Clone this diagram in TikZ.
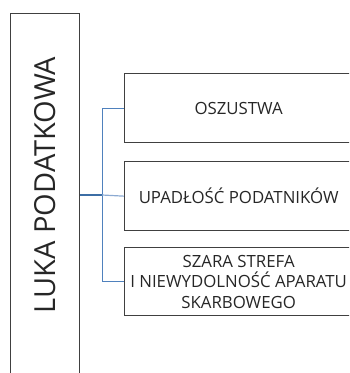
\documentclass[tikz,border=0pt]{standalone}
\usepackage{fontspec}
\setmainfont{Open Sans}
\begin{document}
\begin{tikzpicture}[x=1pt,y=1pt]
\tikzset{
  frame/.style={draw=black!75, line width=1.3pt, rectangle, inner sep=0pt},
  item/.style={frame, minimum width=228pt, minimum height=69pt, anchor=north west,
    align=center, font=\fontsize{16.8}{20.5}\selectfont, text=black!85},
  link/.style={draw={rgb,255:red,79;green,129;blue,189}, line width=0.9pt},
  branchlight/.style={draw={rgb,255:red,140;green,170;blue,210}, line width=1.2pt},
  stem/.style={draw={rgb,255:red,60;green,110;blue,165}, line width=1.8pt}}
\useasboundingbox (0,0) rectangle (349,-373);
\clip (0,0) rectangle (349,-373);

% main category column
\node[frame, minimum width=69pt, minimum height=380pt, anchor=north west] (gap) at (10,-13) {};
\node[rotate=90, font=\fontsize{29}{34}\selectfont, text=black!85] (gaplabel) at (45,-185) {LUKA PODATKOWA};

% component boxes
\node[item] (b1) at (124,-73) {OSZUSTWA};
\node[item] (b2) at (124,-161) {UPADŁOŚĆ PODATNIKÓW};
\node[item, minimum height=68pt] (b3) at (124,-247) {SZARA STREFA\\I NIEWYDOLNOŚĆ APARATU\\SKARBOWEGO};

% connectors
\coordinate (j) at (102,-195);
\draw[stem] (gap.east |- j) -- (j);
\draw[link] (j |- b1.west) -- (j |- b3.west);
\draw[link] (j |- b1.west) -- (b1.west);
\draw[branchlight] (j) -- (b2.west);
\draw[link] (j |- b3.west) -- (b3.west);
\end{tikzpicture}
\end{document}
